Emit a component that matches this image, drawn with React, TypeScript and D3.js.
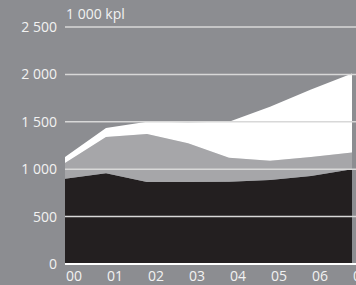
import React, { useEffect, useRef } from "react";
import * as d3 from "d3";

const years = ["00", "01", "02", "03", "04", "05", "06", "07"];
const blackSeries = [900, 957, 865, 865, 868, 886, 928, 1000];
const graySeries = [165, 383, 505, 410, 252, 204, 202, 175];
const whiteSeries = [65, 95, 130, 220, 380, 570, 710, 835];
const yTicks = [0, 500, 1000, 1500, 2000, 2500];
const unitLabel = "1 000 kpl";

const W = 356;
const H = 285;

export default function App() {
  const ref = useRef<SVGSVGElement>(null);

  useEffect(() => {
    const svg = d3.select(ref.current);
    svg.selectAll("*").remove();

    const x = d3.scaleLinear().domain([0, years.length - 1]).range([65, 352]);
    const y = d3.scaleLinear().domain([0, 2500]).range([264, 27]);

    svg.append("rect").attr("width", W).attr("height", H).attr("fill", "#8c8d91");

    const rows = years.map((yr, i) => ({
      i,
      black: blackSeries[i],
      gray: graySeries[i],
      white: whiteSeries[i],
    }));
    const stack = d3.stack<any>().keys(["black", "gray", "white"]);
    const layers = stack(rows);
    const colors = ["#231f20", "#a6a6a9", "#ffffff"];

    const area = d3
      .area<any>()
      .x(d => x(d.data.i))
      .y0(d => y(d[0]))
      .y1(d => y(d[1]));

    svg
      .selectAll("path.layer")
      .data(layers)
      .join("path")
      .attr("class", "layer")
      .attr("fill", (d, i) => colors[i])
      .attr("d", area as any);

    // gridlines over the areas
    svg
      .selectAll("line.grid")
      .data(yTicks)
      .join("line")
      .attr("class", "grid")
      .attr("x1", 65)
      .attr("x2", W)
      .attr("y1", d => y(d))
      .attr("y2", d => y(d))
      .attr("stroke", d => (d === 0 ? "#ffffff" : "#d8d8d8"))
      .attr("stroke-width", d => (d === 0 ? 2 : 1.5));

    const fmt = (v: number) => d3.format(",")(v).replace(/,/g, " ");

    svg
      .selectAll("text.ytick")
      .data(yTicks)
      .join("text")
      .attr("class", "ytick")
      .attr("x", 57)
      .attr("y", d => y(d))
      .attr("dy", "0.35em")
      .attr("text-anchor", "end")
      .attr("fill", "#f2f2f2")
      .attr("font-family", "Open Sans, sans-serif")
      .attr("font-size", 14)
      .text(d => fmt(d));

    svg
      .selectAll("text.xtick")
      .data(years)
      .join("text")
      .attr("class", "xtick")
      .attr("x", (d, i) => x(i) + 1)
      .attr("y", 281)
      .attr("text-anchor", "start")
      .attr("fill", "#f2f2f2")
      .attr("font-family", "Open Sans, sans-serif")
      .attr("font-size", 14)
      .text(d => d);

    svg
      .append("text")
      .attr("x", 66)
      .attr("y", 19)
      .attr("fill", "#f2f2f2")
      .attr("font-family", "Open Sans, sans-serif")
      .attr("font-size", 14)
      .text(unitLabel);
  }, []);

  return (
    <svg
      ref={ref}
      width={W}
      height={H}
      style={{ position: "absolute", left: 0, top: 0, display: "block" }}
    />
  );
}
